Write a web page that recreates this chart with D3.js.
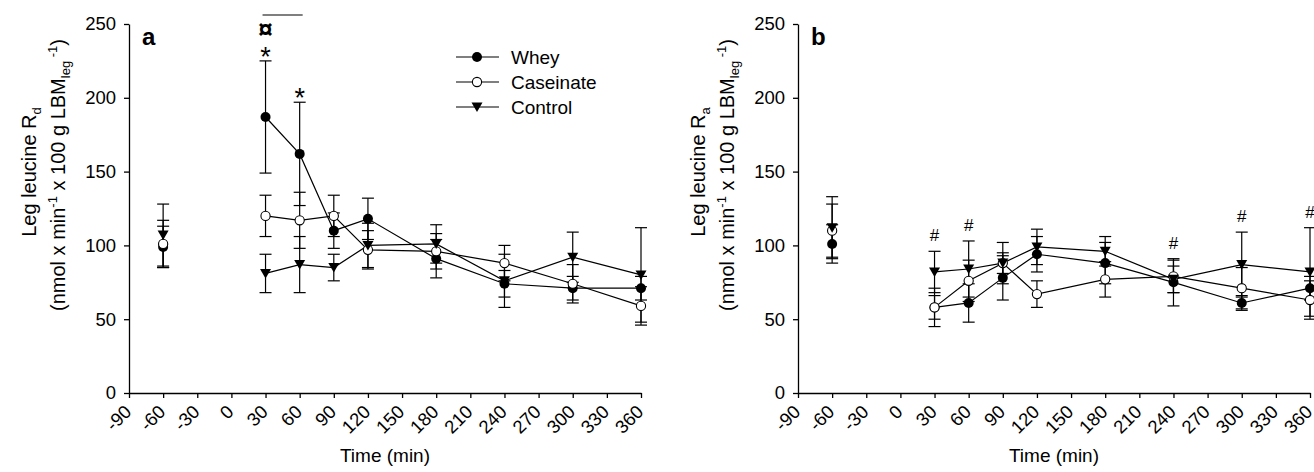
<!DOCTYPE html>
<html>
<head>
<meta charset="utf-8">
<script src="https://cdn.jsdelivr.net/npm/d3@7"></script>
<style>
  body { margin: 0; background: #fff; }
  svg text { font-family: 'Liberation Sans', Arial, sans-serif; fill: #000; }
</style>
</head>
<body>
<div id="chart"></div>
<script>
// sampling times (min)
const times = [-60, 30, 60, 90, 120, 180, 240, 300, 360]
const xTicks = [-90, -60, -30, 0, 30, 60, 90, 120, 150, 180, 210, 240, 270, 300, 330, 360]
const yTicks = [0, 50, 100, 150, 200, 250]

// panel a: leg leucine Rd (mean, SE)
const rdWhey = [99, 187, 162, 110, 118, 91, 74, 71, 71]
const rdWheySE = [14, 38, 35, 12, 14, 13, 9, 8, 8]
const rdCaseinate = [101, 120, 117, 120, 97, 96, 88, 74, 59]
const rdCaseinateSE = [16, 14, 19, 14, 13, 12, 12, 13, 13]
const rdControl = [107, 81, 87, 85, 100, 101, 76, 92, 80]
const rdControlSE = [21, 13, 19, 9, 15, 13, 18, 17, 32]

// panel b: leg leucine Ra (mean, SE)
const raWhey = [101, 58, 61, 78, 94, 88, 75, 61, 71]
const raWheySE = [13, 8, 13, 15, 12, 14, 16, 5, 8]
const raCaseinate = [110, 58, 76, 88, 67, 77, 79, 71, 63]
const raCaseinateSE = [18, 13, 14, 14, 9, 12, 11, 14, 13]
const raControl = [112, 82, 84, 88, 99, 96, 77, 87, 82]
const raControlSE = [21, 14, 19, 7, 12, 10, 9, 22, 30]

// significance marks
const rdStarTimes = [30, 60]
const rdCurrencyTimes = [30]
const rdBracket = [30, 60]
const raHashTimes = [30, 60, 240, 300, 360]

const groups = ['Whey', 'Caseinate', 'Control']

const W = 1314
const H = 472
const svg = d3.select('#chart').append('svg').attr('width', W).attr('height', H)

const plotTop = 24
const plotBottom = 393
const plotW = 512

const drawMarker = (g, group, cx, cy) => {
  if (group === 'Control') {
    g.append('path')
      .attr('d', `M${cx - 5.5},${cy - 4.5}L${cx + 5.5},${cy - 4.5}L${cx},${cy + 5}Z`)
      .attr('fill', '#000')
  } else if (group === 'Whey') {
    g.append('circle').attr('cx', cx).attr('cy', cy).attr('r', 5).attr('fill', '#000')
  } else {
    g.append('circle')
      .attr('cx', cx)
      .attr('cy', cy)
      .attr('r', 4.6)
      .attr('fill', '#fff')
      .attr('stroke', '#000')
      .attr('stroke-width', 1.1)
  }
}

const panel = (left, letter, sub, series, errs) => {
  const x = d3.scaleLinear().domain([-90, 360]).range([left, left + plotW])
  const y = d3.scaleLinear().domain([0, 250]).range([plotBottom, plotTop])
  const g = svg.append('g')

  // axes (plain hyphen for negative ticks, like the original)
  const xAxis = g
    .append('g')
    .attr('transform', `translate(0, ${plotBottom})`)
    .call(
      d3.axisBottom(x).tickValues(xTicks).tickFormat((d) => String(d)).tickSize(5).tickSizeOuter(0)
    )
  xAxis
    .selectAll('text')
    .attr('x', 0)
    .attr('y', 0)
    .attr('dy', 0)
    .attr('transform', 'translate(3, 20) rotate(-45)')
    .style('text-anchor', 'end')
    .style('font-size', '18.5px')

  const yAxis = g
    .append('g')
    .attr('transform', `translate(${left}, 0)`)
    .call(d3.axisLeft(y).tickValues(yTicks).tickSize(5).tickPadding(8).tickSizeOuter(0))
  yAxis.selectAll('text').style('font-size', '18.5px')

  g.selectAll('.domain, .tick line').attr('stroke', '#000').attr('stroke-width', 1.3)

  // lines
  const line = d3
    .line()
    .x((d) => x(d.t))
    .y((d) => y(d.v))

  series.forEach((vals) => {
    const pts = times.map((t, i) => ({ t, v: vals[i] }))
    // baseline point is not connected to post-ingestion points
    g.append('path')
      .datum(pts.filter((d) => d.t > 0))
      .attr('d', line)
      .attr('fill', 'none')
      .attr('stroke', '#000')
      .attr('stroke-width', 1.2)
  })

  // error bars
  series.forEach((vals, k) => {
    times.forEach((t, i) => {
      const cx = x(t)
      const hi = y(vals[i] + errs[k][i])
      const lo = y(vals[i] - errs[k][i])
      g.append('line').attr('x1', cx).attr('x2', cx).attr('y1', hi).attr('y2', lo)
        .attr('stroke', '#000').attr('stroke-width', 1.2)
      ;[hi, lo].forEach((yy) => {
        g.append('line').attr('x1', cx - 6).attr('x2', cx + 6).attr('y1', yy).attr('y2', yy)
          .attr('stroke', '#000').attr('stroke-width', 1.2)
      })
    })
  })

  // markers
  series.forEach((vals, k) => {
    times.forEach((t, i) => drawMarker(g, groups[k], x(t), y(vals[i])))
  })

  // panel letter
  g.append('text')
    .attr('x', left + 13)
    .attr('y', 45)
    .style('font-size', '24px')
    .style('font-weight', 'bold')
    .text(letter)

  // x title
  g.append('text')
    .attr('x', left + plotW / 2)
    .attr('y', 462)
    .style('font-size', '19px')
    .style('text-anchor', 'middle')
    .text('Time (min)')

  // y title, two lines
  const t1 = g
    .append('text')
    .attr('transform', `translate(${left - 93}, 172) rotate(-90)`)
    .style('font-size', '20px')
    .style('text-anchor', 'middle')
  t1.append('tspan').text('Leg leucine R')
  t1.append('tspan').attr('dy', 5).style('font-size', '13px').text(sub)

  const t2 = g
    .append('text')
    .attr('transform', `translate(${left - 64}, 175) rotate(-90)`)
    .style('font-size', '20px')
    .style('text-anchor', 'middle')
  t2.append('tspan').text('(nmol x min')
  t2.append('tspan').attr('dy', -8).style('font-size', '13px').text('-1')
  t2.append('tspan').attr('dy', 8).text(' x 100 g LBM')
  t2.append('tspan').attr('dy', 5).style('font-size', '13px').text('leg')
  t2.append('tspan').attr('dy', -13).style('font-size', '13px').text('\u00a0-1')
  t2.append('tspan').attr('dy', 8).text(')')

  return { g, x, y }
}

const pa = panel(129, 'a', 'd', [rdWhey, rdCaseinate, rdControl], [rdWheySE, rdCaseinateSE, rdControlSE])
const pb = panel(798, 'b', 'a', [raWhey, raCaseinate, raControl], [raWheySE, raCaseinateSE, raControlSE])

// highest error cap at a given time
const capTop = (t, series, errs) => {
  const i = times.indexOf(t)
  return d3.max(series, (s, k) => s[i] + errs[k][i])
}

// panel a annotations
rdStarTimes.forEach((t) => {
  const v = capTop(t, [rdWhey, rdCaseinate, rdControl], [rdWheySE, rdCaseinateSE, rdControlSE])
  pa.g.append('text')
    .attr('x', pa.x(t))
    .attr('y', pa.y(v) + 5)
    .style('font-size', '27px')
    .style('text-anchor', 'middle')
    .text('*')
})
rdCurrencyTimes.forEach((t) => {
  const v = capTop(t, [rdWhey, rdCaseinate, rdControl], [rdWheySE, rdCaseinateSE, rdControlSE])
  pa.g.append('text')
    .attr('x', pa.x(t))
    .attr('y', pa.y(v) - 23)
    .style('font-size', '26px')
    .style('font-weight', 'bold')
    .style('text-anchor', 'middle')
    .text('\u00a4')
})
pa.g.append('line')
  .attr('x1', pa.x(rdBracket[0]) - 3)
  .attr('x2', pa.x(rdBracket[1]) + 3)
  .attr('y1', 15)
  .attr('y2', 15)
  .attr('stroke', '#000')
  .attr('stroke-width', 1.2)

// legend (panel a)
const legend = pa.g.append('g')
groups.forEach((name, k) => {
  const ly = 57 + k * 25
  legend.append('line').attr('x1', 456).attr('x2', 499).attr('y1', ly).attr('y2', ly)
    .attr('stroke', '#000').attr('stroke-width', 1.2)
  drawMarker(legend, name, 477, ly)
  legend.append('text')
    .attr('x', 511)
    .attr('y', ly + 7)
    .style('font-size', '19px')
    .text(name)
})

// panel b annotations
raHashTimes.forEach((t) => {
  const v = capTop(t, [raWhey, raCaseinate, raControl], [raWheySE, raCaseinateSE, raControlSE])
  pb.g.append('text')
    .attr('x', pb.x(t))
    .attr('y', pb.y(v) - 10)
    .style('font-size', '17px')
    .style('text-anchor', 'middle')
    .text('#')
})
</script>
</body>
</html>
